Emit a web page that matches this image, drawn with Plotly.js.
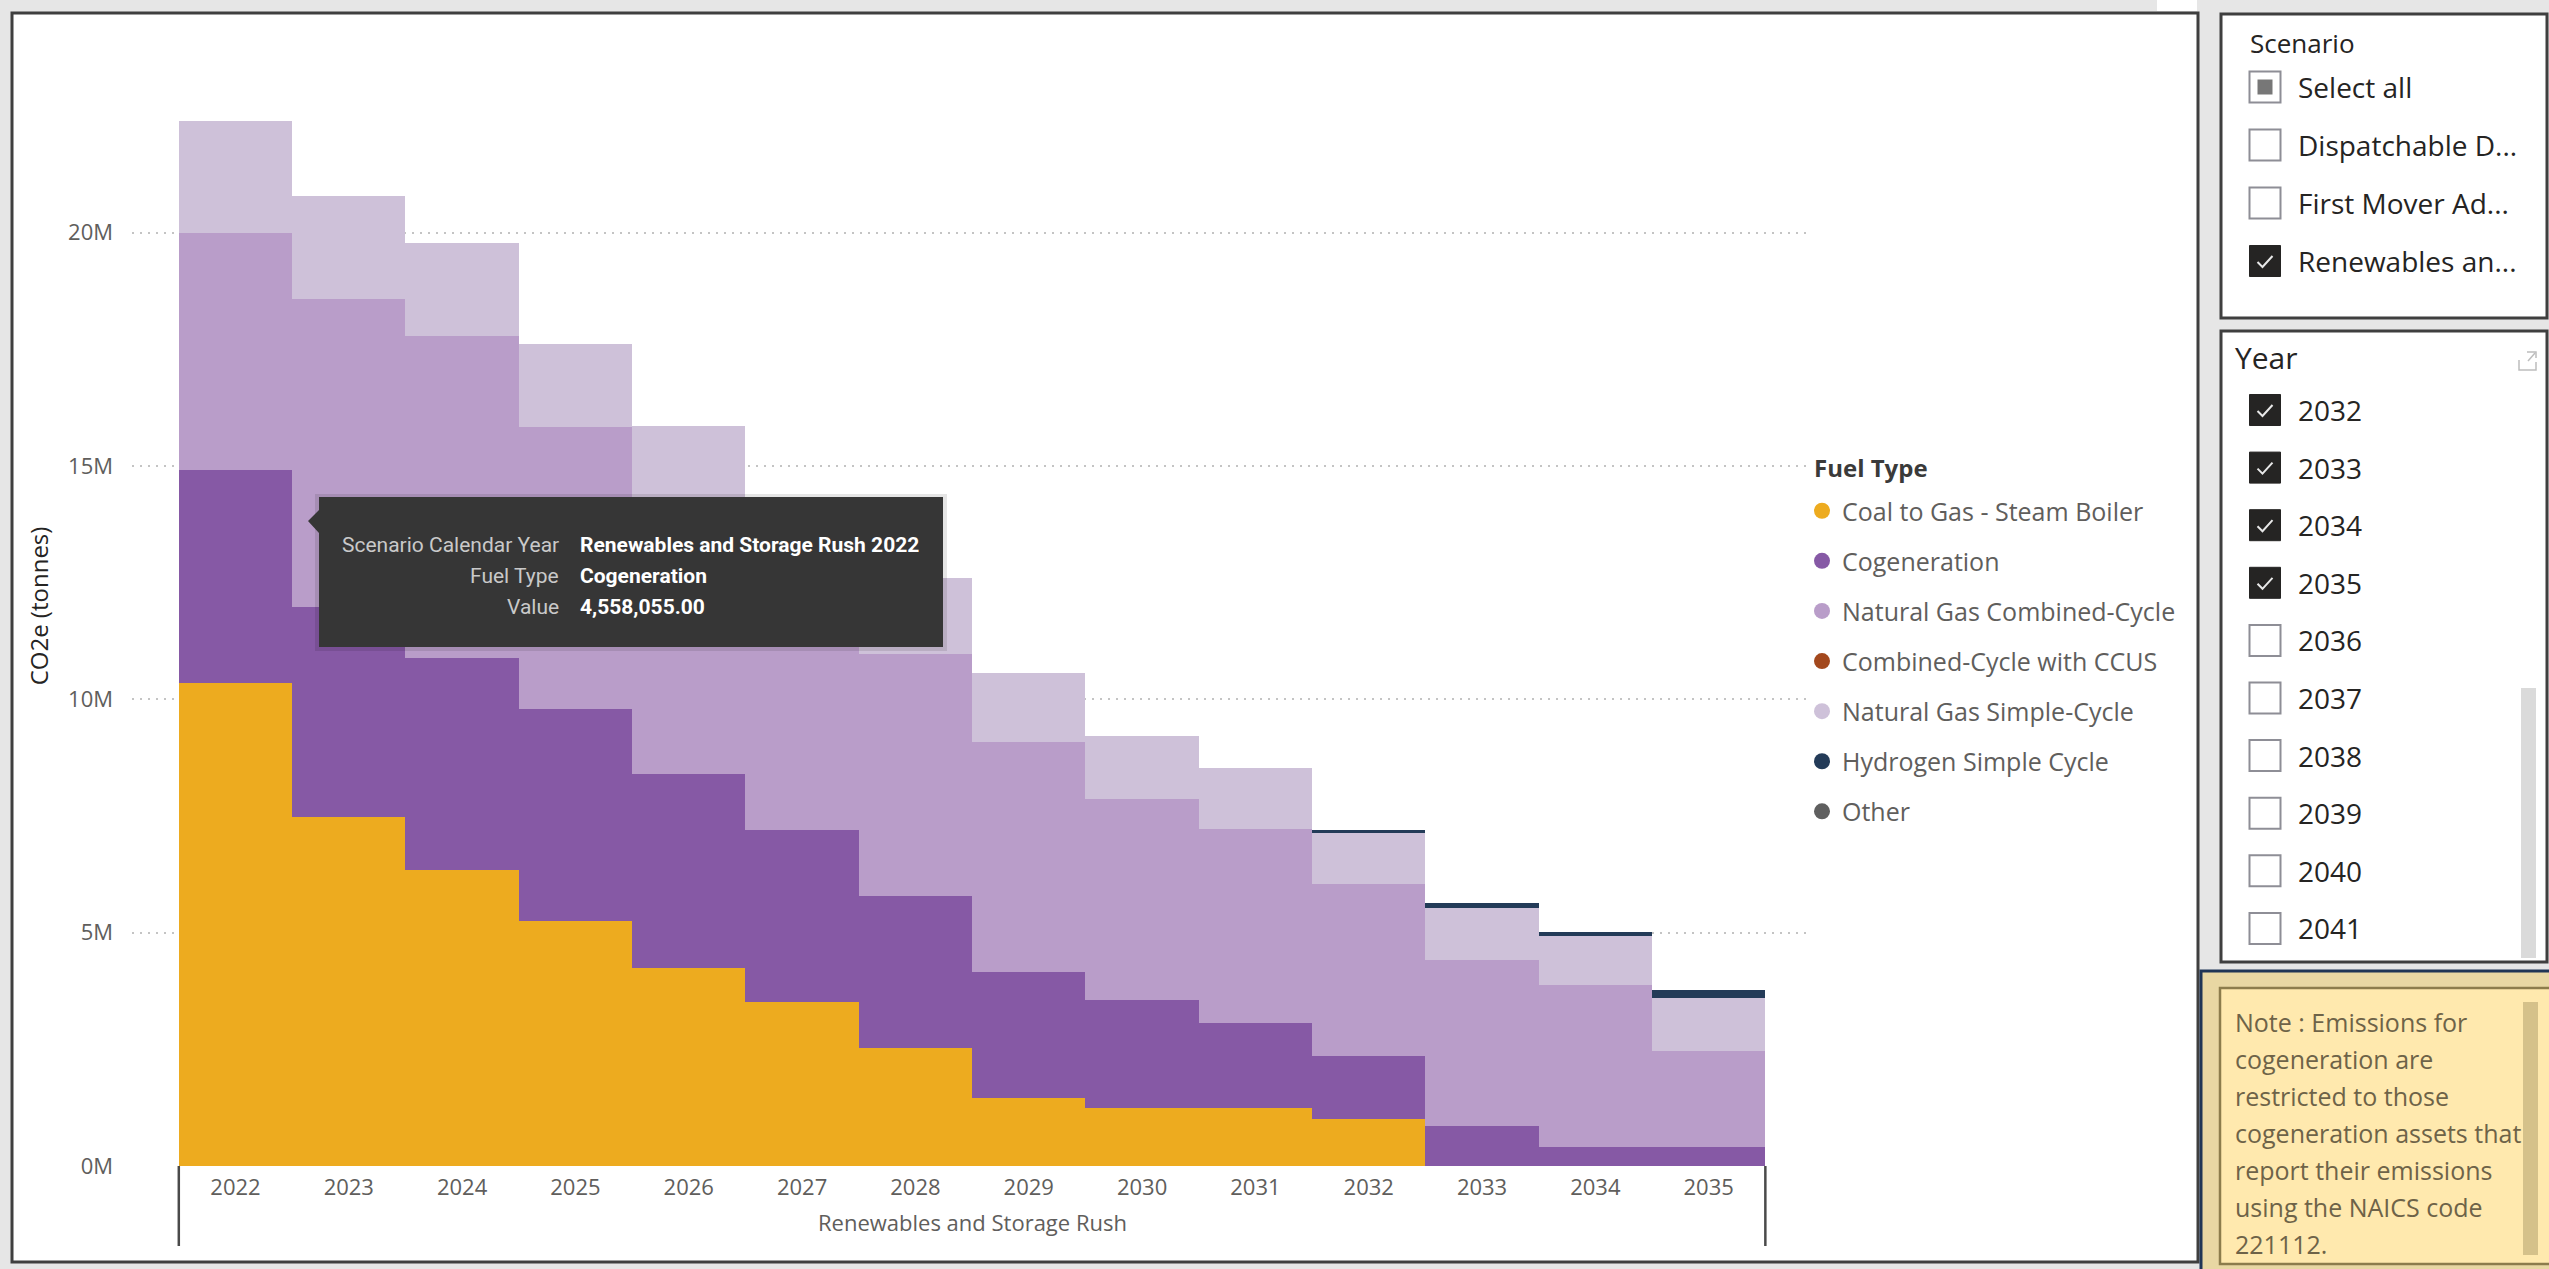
<!DOCTYPE html>
<html>
<head>
<meta charset="utf-8">
<script src="https://cdn.plot.ly/plotly-3.0.1.min.js"></script>
<style>
html,body{margin:0;padding:0;background:#E6E6E6;overflow:hidden;}
#chart{width:2549px;height:1269px;}
</style>
</head>
<body>
<div id="chart"></div>
<script>
// ---- data -------------------------------------------------------------
const scenarioName = 'Renewables and Storage Rush';
const years = ['2022','2023','2024','2025','2026','2027','2028','2029','2030','2031','2032','2033','2034','2035'];

// CO2e emissions by fuel type, tonnes
const coalToGas    = [10360000, 7480000, 6340000, 5240000, 4240000, 3520000, 2520000, 1450000, 1250000, 1250000, 1010000, 0, 0, 0];
const cogeneration = [4558055, 4500000, 4540000, 4560000, 4160000, 3670000, 3260000, 2710000, 2310000, 1810000, 1350000, 850000, 400000, 400000];
const ngCombined   = [5080000, 6600000, 6900000, 6040000, 5740000, 5300000, 5190000, 4920000, 4310000, 4160000, 3680000, 3570000, 3470000, 2060000];
const ccus         = [0, 0, 0, 0, 0, 0, 0, 0, 0, 0, 0, 0, 0, 0];
const ngSimple     = [2390000, 2210000, 2000000, 1780000, 1720000, 1620000, 1620000, 1490000, 1340000, 1300000, 1100000, 1110000, 1050000, 1150000];
const hydrogen     = [0, 0, 0, 0, 0, 0, 0, 0, 0, 0, 50000, 100000, 100000, 160000];
const otherFuel    = [0, 0, 0, 0, 0, 0, 0, 0, 0, 0, 0, 0, 0, 0];

const fuelTypes  = ['Coal to Gas - Steam Boiler', 'Cogeneration', 'Natural Gas Combined-Cycle', 'Combined-Cycle with CCUS', 'Natural Gas Simple-Cycle', 'Hydrogen Simple Cycle', 'Other'];
const fuelSeries = [coalToGas, cogeneration, ngCombined, ccus, ngSimple, hydrogen, otherFuel];
const fuelColors = ['#EDAB1F', '#8659A5', '#B99DC9', '#A3481D', '#CEC1D9', '#233B58', '#5F5F5F'];

const yTickVals   = [0, 5000000, 10000000, 15000000, 20000000];
const yTickLabels = ['0M', '5M', '10M', '15M', '20M'];

// slicers
const scenarioOptions = ['Select all', 'Dispatchable D...', 'First Mover Ad...', 'Renewables an...'];
const scenarioState   = ['partial', 'off', 'off', 'on'];
const yearOptions     = ['2032','2033','2034','2035','2036','2037','2038','2039','2040','2041'];
const yearState       = ['on','on','on','on','off','off','off','off','off','off'];

const noteLines = ['Note : Emissions for', 'cogeneration are', 'restricted to those', 'cogeneration assets that', 'report their emissions', 'using the NAICS code', '221112.'];

// ---- page geometry (pixels) --------------------------------------------
const FIG_W = 2549, FIG_H = 1269;
const M = {l: 132, r: 739, t: 46, b: 103};
const PW = FIG_W - M.l - M.r, PH = FIG_H - M.t - M.b;
const fx = px => (px - M.l) / PW;
const fy = py => 1 - (py - M.t) / PH;
const FONT = 'Open Sans, Noto Sans, sans-serif';

const shapes = [];
const annotations = [];

function rect(x0, y0, x1, y1, fill, lineColor, lineWidth, layer) {
  shapes.push({type: 'rect', xref: 'paper', yref: 'paper',
    x0: fx(x0), x1: fx(x1), y0: fy(y1), y1: fy(y0),
    fillcolor: fill, line: {color: lineColor || 'rgba(0,0,0,0)', width: lineWidth || 0},
    layer: layer || 'above'});
}
function path(points, closed, fill, lineColor, lineWidth, layer) {
  const d = points.map((p, i) => (i ? 'L' : 'M') + fx(p[0]) + ',' + fy(p[1])).join(' ') + (closed ? ' Z' : '');
  shapes.push({type: 'path', xref: 'paper', yref: 'paper', path: d,
    fillcolor: fill || 'rgba(0,0,0,0)', line: {color: lineColor || 'rgba(0,0,0,0)', width: lineWidth || 0},
    layer: layer || 'above'});
}
function label(x, y, text, size, color, anchor, extra) {
  annotations.push(Object.assign({xref: 'paper', yref: 'paper', x: fx(x), y: fy(y),
    xanchor: anchor || 'left', yanchor: 'middle', showarrow: false, text: text,
    font: {family: FONT, size: size, color: color}}, extra || {}));
}

// report canvas: visual panel
rect(12, 13, 2198, 1262, '#FFFFFF', '#3F3F3F', 3, 'below');
rect(2157, 0, 2197, 11, '#FFFFFF', null, 0, 'below');

// scenario group under the year labels, bounded by divider lines
annotations.push({xref: 'x', yref: 'paper', x: (years.length - 1) / 2, y: fy(1222),
  xanchor: 'center', yanchor: 'middle', showarrow: false, text: scenarioName,
  font: {family: FONT, size: 22, color: '#605E5C'}});
[-0.5, years.length - 0.5].forEach(xv => shapes.push({type: 'line', xref: 'x', yref: 'paper',
  x0: xv, x1: xv, y0: fy(1166), y1: fy(1246), line: {color: '#4A4A4A', width: 2.5}, layer: 'above'}));

// legend heading
label(1812, 467, '<b>Fuel Type</b>', 24, '#3A3A3A');

// tooltip over the first cogeneration bar
rect(315, 494, 947, 651, 'rgba(0,0,0,0.10)', null, 0, 'above');
path([[319, 497], [943, 497], [943, 647], [319, 647], [319, 533], [308, 521], [319, 510]], true, '#363636', null, 0, 'above');
const tipLabels = ['Scenario Calendar Year', 'Fuel Type', 'Value'];
const tipValues = [scenarioName + ' ' + years[0], fuelTypes[1],
  cogeneration[0].toLocaleString('en-US', {minimumFractionDigits: 2, maximumFractionDigits: 2})];
tipLabels.forEach((t, i) => {
  const y = 545 + i * 31;
  label(561, y, t, 21, '#C9C9C9', 'right', {font: {family: 'Roboto, sans-serif', size: 21, color: '#C9C9C9'}});
  label(578, y, '<b>' + tipValues[i] + '</b>', 21, '#FFFFFF', 'left', {font: {family: 'Roboto, sans-serif', size: 21, color: '#FFFFFF'}});
});

// checkbox helper
function checkbox(xc, yc, state) {
  const s = 31, x0 = xc - s / 2, y0 = yc - s / 2;
  if (state === 'on') {
    rect(x0, y0, x0 + s, y0 + s, '#252423', '#252423', 1);
    path([[x0 + 8, yc + 1], [x0 + 13, yc + 6], [x0 + 23, yc - 5]], false, null, '#E8E8E8', 2);
  } else {
    rect(x0, y0, x0 + s, y0 + s, '#FFFFFF', '#8E8E96', 2);
    if (state === 'partial') rect(x0 + 8, y0 + 8, x0 + s - 8, y0 + s - 8, '#777777', null, 0);
  }
}

// scenario slicer
rect(2221, 14, 2547, 318, '#FFFFFF', '#3F3F3F', 3);
label(2248, 43, 'Scenario', 26, '#252423');
scenarioOptions.forEach((t, i) => {
  const y = 87 + i * 58;
  checkbox(2265, y, scenarioState[i]);
  label(2296, y, t, 28, '#252423');
});

// year slicer
rect(2221, 331, 2547, 962, '#FFFFFF', '#3F3F3F', 3);
label(2233, 357, 'Year', 30, '#252423');
path([[2519, 360], [2519, 370], [2536, 370], [2536, 362]], false, null, '#BDBDBD', 1.5);
path([[2527, 352], [2536, 352], [2536, 358]], false, null, '#BDBDBD', 1.5);
path([[2528, 361], [2535, 353]], false, null, '#BDBDBD', 1.5);
rect(2521, 688, 2536, 958, '#DADADA', null, 0);
yearOptions.forEach((t, i) => {
  const y = 410 + i * 57.6;
  checkbox(2265, y, yearState[i]);
  label(2296, y, t, 28, '#252423');
});

// note box
rect(2201, 971, 2560, 1280, '#E8D7A3', '#1F3556', 3);
rect(2220, 988, 2560, 1264, '#FFE9AE', '#8C7C4C', 2.5);
rect(2523, 1002, 2538, 1255, '#D5C18A', null, 0);
noteLines.forEach((t, i) => label(2233, 1022 + i * 37, t, 25, '#6E6348'));

// ---- traces -------------------------------------------------------------
const traces = fuelSeries.map((vals, i) => ({
  type: 'bar', x: years, y: vals, name: fuelTypes[i],
  marker: {color: fuelColors[i], line: {width: 0}},
  showlegend: false, legendgroup: fuelTypes[i], hoverinfo: 'skip'
}));
// legend keys drawn as round markers
fuelTypes.forEach((n, i) => traces.push({
  type: 'scatter', mode: 'markers', x: [null], y: [null], name: n,
  legendgroup: n, marker: {color: fuelColors[i], size: 16, symbol: 'circle'}, hoverinfo: 'skip'
}));

const layout = {
  width: FIG_W, height: FIG_H,
  margin: M,
  paper_bgcolor: '#E6E6E6', plot_bgcolor: 'rgba(0,0,0,0)',
  barmode: 'stack', bargap: 0,
  hovermode: false,
  font: {family: FONT, color: '#605E5C'},
  xaxis: {
    type: 'category', range: [-0.913, 13.894], autorange: false,
    showgrid: false, zeroline: false, showline: false, ticks: '', ticklabelstandoff: 6,
    tickfont: {family: FONT, size: 22, color: '#605E5C'}
  },
  yaxis: {
    range: [0, 24000000], autorange: false,
    tickvals: yTickVals, ticktext: yTickLabels,
    showgrid: true, gridcolor: '#C4C4C4', griddash: '2px,6px', gridwidth: 1.5,
    zeroline: false, showline: false, ticks: '', ticklabelstandoff: 18,
    tickfont: {family: FONT, size: 22, color: '#605E5C'},
    title: {text: 'CO2e (tonnes)', font: {family: FONT, size: 24, color: '#252423'}, standoff: 12}
  },
  legend: {
    x: fx(1802), y: fy(488), xanchor: 'left', yanchor: 'top',
    bgcolor: 'rgba(0,0,0,0)', traceorder: 'grouped', tracegroupgap: 14.6,
    font: {family: FONT, size: 25, color: '#605E5C'},
    itemclick: false, itemdoubleclick: false
  },
  shapes: shapes,
  annotations: annotations
};

Plotly.newPlot('chart', traces, layout, {displayModeBar: false, responsive: false});
</script>
</body>
</html>
